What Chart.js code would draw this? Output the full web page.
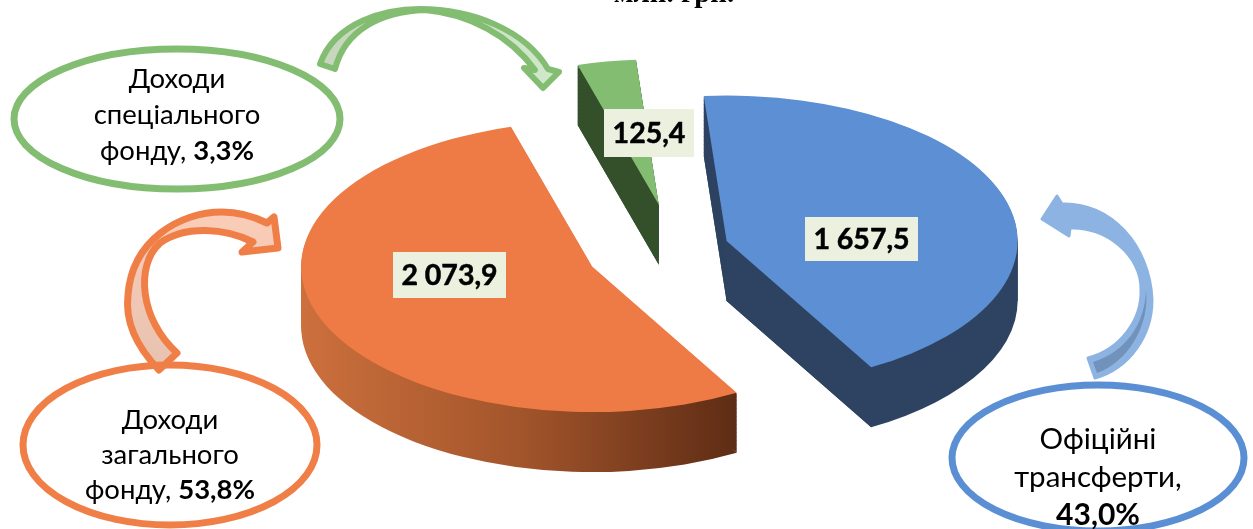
<!DOCTYPE html>
<html lang="uk">
<head>
<meta charset="utf-8">
<style>html,body{margin:0;padding:0;background:#fff;overflow:hidden}canvas{display:block}</style>
<script src="https://cdn.jsdelivr.net/npm/chart.js@4"></script>
</head>
<body>
<canvas id="c" width="1253" height="529"></canvas>
<script>
const categories = ["Офіційні трансферти", "Доходи загального фонду", "Доходи спеціального фонду"];
const values = [1657.5, 2073.9, 125.4];
const valueLabels = ["1 657,5", "2 073,9", "125,4"];
const percentLabels = ["43,0%", "53,8%", "3,3%"];
const titleText = "млн. грн.";

const topColors = ["#5C8FD4", "#EE7B45", "#82BD72"];
const wallColors = ["#2E4361", null, "#34502B"];
const explode = [54, 90, 90];
const labelBoxes = [[805, 217, 113, 44], [393, 252, 113, 46], [604, 109, 90, 48]];
const FONT = 'Lato, "Noto Sans", sans-serif';
const TILT = 0.5, DEPTH = 60, SCREEN_CY = 249;

function wedge(ctx, a, dy) {
  ctx.beginPath();
  ctx.moveTo(a.x, a.y + dy);
  ctx.arc(a.x, a.y + dy, a.outerRadius, a.startAngle, a.endAngle);
  ctx.closePath();
  ctx.fill();
}
function wall(ctx, a) {
  const h = DEPTH / TILT, base = 2;
  // vertical sections at the slice edges and at the ellipse's left/right extremes
  const cuts = [a.startAngle, a.endAngle];
  for (let n = -2; n <= 3; n++) {
    const t = n * Math.PI;
    if (t > a.startAngle && t < a.endAngle) cuts.push(t);
  }
  cuts.forEach(t => {
    const ex = a.x + Math.cos(t) * a.outerRadius, ey = a.y + Math.sin(t) * a.outerRadius;
    ctx.beginPath();
    ctx.moveTo(a.x, a.y + base);
    ctx.lineTo(ex, ey + base);
    ctx.lineTo(ex, ey + h);
    ctx.lineTo(a.x, a.y + h);
    ctx.closePath();
    ctx.fill();
  });
  // solid stack that hides the seams between those sections
  for (let k = h; k >= base; k -= 8) wedge(ctx, a, k);
  wedge(ctx, a, base);
}

const pie3d = {
  id: "pie3d",
  afterDatasetsUpdate(chart) {
    chart.getDatasetMeta(0).data.forEach((a, i) => {
      const mid = (a.startAngle + a.endAngle) / 2;
      a.x += Math.cos(mid) * explode[i];
      a.y += Math.sin(mid) * explode[i];
    });
  },
  beforeDatasetsDraw(chart) {
    const ctx = chart.ctx;
    const arcs = chart.getDatasetMeta(0).data;
    const cy = (chart.chartArea.top + chart.chartArea.bottom) / 2;
    ctx.save();
    ctx.translate(0, SCREEN_CY);
    ctx.scale(1, TILT);
    ctx.translate(0, -cy);
    const grad = ctx.createLinearGradient(301, 0, 737, 0);
    grad.addColorStop(0, "#CC703D");
    grad.addColorStop(0.5, "#A3552B");
    grad.addColorStop(1, "#5E2C15");
    [2, 0, 1].forEach(i => {
      ctx.fillStyle = wallColors[i] || grad;
      wall(ctx, arcs[i]);
    });
  },
  afterDatasetsDraw(chart) {
    chart.ctx.restore();
  }
};

function ring(ctx, x, y, rx, ry, color) {
  ctx.beginPath();
  ctx.ellipse(x, y, rx, ry, 0, 0, Math.PI * 2);
  ctx.lineWidth = 7;
  ctx.strokeStyle = color;
  ctx.stroke();
}
function line(ctx, parts, cx, y, size) {
  const px = size || 27.5;
  let w = 0;
  parts.forEach(p => { ctx.font = (p[1] ? "bold " : "") + px + "px " + FONT; w += ctx.measureText(p[0]).width; });
  let x = cx - w / 2;
  ctx.textAlign = "left";
  ctx.textBaseline = "alphabetic";
  ctx.fillStyle = "#000";
  parts.forEach(p => { ctx.font = (p[1] ? "bold " : "") + px + "px " + FONT; ctx.fillText(p[0], x, y); x += ctx.measureText(p[0]).width; });
}
function greenArrow(ctx) {
  const g = ctx.createLinearGradient(320, 0, 560, 0);
  g.addColorStop(0, "#C6D6BC"); g.addColorStop(1, "#D0E8CA");
  ctx.beginPath();
  ctx.moveTo(320, 64);
  ctx.bezierCurveTo(335, 22, 385, 9, 420, 9);
  ctx.bezierCurveTo(472, 9, 525, 30, 548, 69);
  ctx.lineTo(559, 72); ctx.lineTo(543, 88); ctx.lineTo(524, 68); ctx.lineTo(535, 70);
  ctx.bezierCurveTo(510, 36, 470, 14, 425, 10);
  ctx.bezierCurveTo(380, 12, 345, 30, 335, 69);
  ctx.closePath();
  ctx.fillStyle = g; ctx.fill();
  ctx.lineJoin = "round"; ctx.lineWidth = 6; ctx.strokeStyle = "#82BD72"; ctx.stroke();
}
function orangeArrow(ctx) {
  const g = ctx.createLinearGradient(0, 360, 0, 210);
  g.addColorStop(0, "#E8C3B1"); g.addColorStop(1, "#FBCDB8");
  ctx.beginPath();
  ctx.moveTo(159, 370);
  ctx.bezierCurveTo(135, 345, 125, 320, 128, 295);
  ctx.bezierCurveTo(132, 240, 180, 212, 222, 212);
  ctx.bezierCurveTo(240, 212, 255, 217, 267, 223);
  ctx.lineTo(274, 217); ctx.lineTo(278, 248); ctx.lineTo(242, 252); ctx.lineTo(253, 242);
  ctx.bezierCurveTo(225, 228, 185, 225, 160, 243);
  ctx.bezierCurveTo(135, 265, 140, 320, 177, 353);
  ctx.closePath();
  ctx.fillStyle = g; ctx.fill();
  ctx.lineJoin = "round"; ctx.lineWidth = 7; ctx.strokeStyle = "#F07F47"; ctx.stroke();
}
function blueArrow(ctx) {
  ctx.beginPath();
  ctx.moveTo(1062, 204);
  ctx.lineTo(1057, 196); ctx.lineTo(1042, 219); ctx.lineTo(1069, 236); ctx.lineTo(1070, 228);
  ctx.bezierCurveTo(1105, 226, 1142, 255, 1141, 290);
  ctx.bezierCurveTo(1142, 320, 1120, 350, 1088, 358);
  ctx.lineTo(1095, 378);
  ctx.bezierCurveTo(1130, 368, 1152, 335, 1152, 300);
  ctx.bezierCurveTo(1150, 245, 1110, 202, 1062, 204);
  ctx.closePath();
  ctx.fillStyle = "#8DB3E2"; ctx.fill();
  ctx.lineJoin = "round"; ctx.lineWidth = 3; ctx.strokeStyle = "#8DB3E2"; ctx.stroke();
  ctx.beginPath();
  ctx.moveTo(1146, 290);
  ctx.bezierCurveTo(1150, 325, 1128, 362, 1097, 373);
  ctx.lineTo(1093, 362);
  ctx.bezierCurveTo(1125, 352, 1145, 325, 1146, 290);
  ctx.closePath();
  ctx.fillStyle = "#7092BB"; ctx.fill();
}

const overlay = {
  id: "overlay",
  afterDraw(chart) {
    const ctx = chart.ctx;
    ctx.save();
    // value labels
    labelBoxes.forEach((b, i) => {
      ctx.fillStyle = "#EBF0DF";
      ctx.fillRect(b[0], b[1], b[2], b[3]);
      ctx.fillStyle = "#000";
      ctx.strokeStyle = "#000";
      ctx.lineWidth = 0.5;
      ctx.font = "bold 28.5px " + FONT;
      ctx.textAlign = "center";
      ctx.textBaseline = "middle";
      ctx.fillText(valueLabels[i], b[0] + b[2] / 2, b[1] + b[3] / 2 + 1);
      ctx.strokeText(valueLabels[i], b[0] + b[2] / 2, b[1] + b[3] / 2 + 1);
    });
    // title, cut by the top edge in the source picture
    ctx.fillStyle = "#000";
    ctx.font = "bold 29px 'Liberation Serif', serif";
    ctx.textAlign = "center";
    ctx.textBaseline = "alphabetic";
    ctx.fillText(titleText, 674, 2);
    // callouts
    greenArrow(ctx);
    orangeArrow(ctx);
    blueArrow(ctx);
    ring(ctx, 177, 119, 163, 70, "#82BD72");
    ring(ctx, 170, 445, 147, 80, "#F07F47");
    ring(ctx, 1098, 458, 146, 73, "#5B8FD4");
    line(ctx, [["Доходи"]], 177, 88);
    line(ctx, [["спеціального"]], 177, 124);
    line(ctx, [["фонду, "], [percentLabels[2], true]], 177, 160);
    line(ctx, [["Доходи"]], 170, 429);
    line(ctx, [["загального"]], 170, 464);
    line(ctx, [["фонду, "], [percentLabels[1], true]], 170, 499);
    line(ctx, [["Офіційні"]], 1098, 449, 29.5);
    line(ctx, [["трансферти,"]], 1098, 487, 29.5);
    line(ctx, [[percentLabels[0], true]], 1098, 525, 30);
    ctx.restore();
  }
};

new Chart(document.getElementById("c"), {
  type: "pie",
  data: {
    labels: categories,
    datasets: [{ data: values, backgroundColor: topColors, borderWidth: 0, clip: false }]
  },
  options: {
    responsive: false,
    devicePixelRatio: 1,
    animation: false,
    rotation: -4.5,
    radius: 291,
    layout: { padding: { left: 97 } },
    plugins: { legend: { display: false }, tooltip: { enabled: false }, title: { display: false } }
  },
  plugins: [pie3d, overlay]
});
</script>
</body>
</html>
